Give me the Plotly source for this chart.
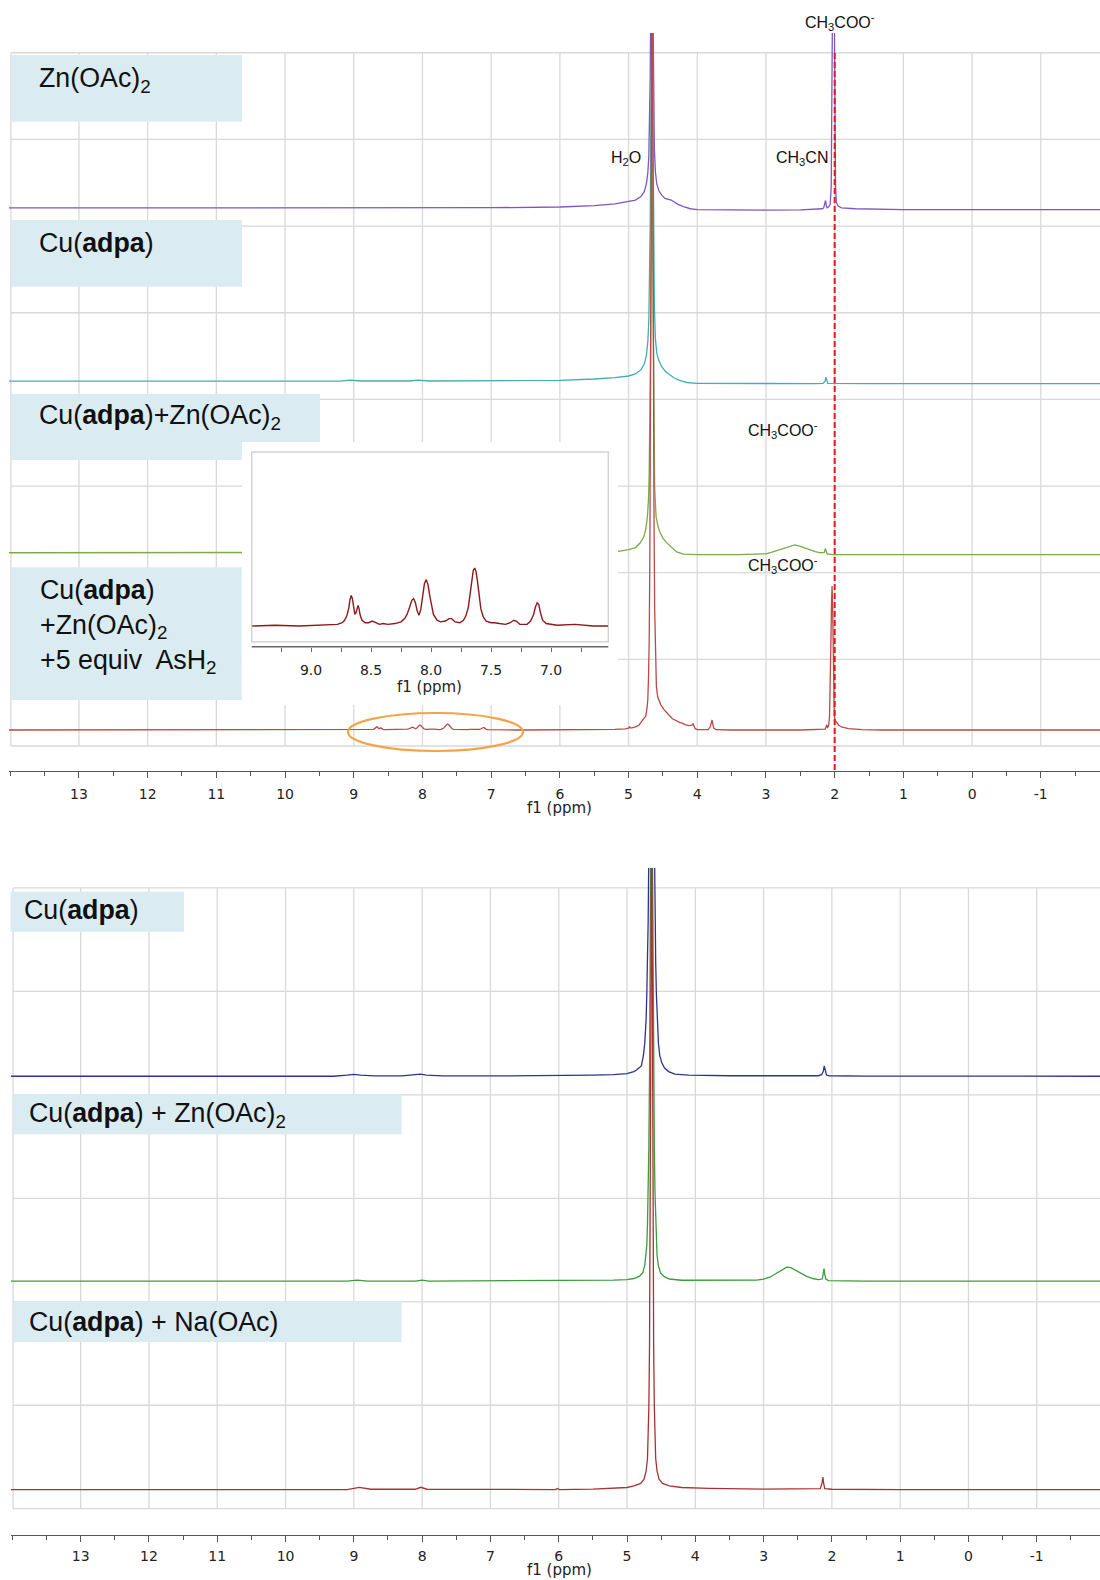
import plotly.graph_objects as go

W, H = 1100, 1580
def px(x): return x / W
def py(y): return 1 - y / H

# ======================= DATA =======================
# ---- top panel spectra (ppm, intensity in grid units) ----
zn_ppm = [14.03, 12.0, 10.0, 8.0, 7.0, 6.0, 5.5, 5.2, 5.0, 4.9, 4.82, 4.77, 4.74, 4.72, 4.705, 4.695, 4.685,
          4.675, 4.665, 4.655, 4.645, 4.635, 4.625, 4.61, 4.59, 4.56, 4.52, 4.47, 4.42, 4.38, 4.34, 4.28,
          4.2, 4.1, 4.0, 3.5, 3.0, 2.5, 2.25, 2.18, 2.16, 2.145, 2.133, 2.122, 2.11, 2.09, 2.065, 2.05,
          2.037, 2.027, 2.017, 2.007, 1.997, 1.987, 1.975, 1.95, 1.9, 1.7, 1.0, -1.0, -1.93]
zn_int = [0.0, 0.0, 0.0, 0.0, 0.002, 0.01, 0.025, 0.045, 0.07, 0.09, 0.13, 0.19, 0.28, 0.40, 0.6, 0.9, 1.5,
          2.6, 4.0, 4.0, 2.4, 1.2, 0.7, 0.42, 0.28, 0.2, 0.15, 0.11, 0.1, 0.09, 0.07, 0.04,
          0.015, -0.01, -0.02, -0.025, -0.025, -0.022, -0.018, -0.01, 0.0, 0.04, 0.085, 0.03, 0.0, 0.01, 0.04, 0.25,
          1.0, 2.5, 4.0, 2.5, 0.9, 0.25, 0.06, 0.02, 0.0, -0.01, -0.02, -0.02, -0.02]

cu_ppm = [14.03, 10.0, 9.2, 9.05, 8.9, 8.2, 8.07, 7.9, 7.0, 6.0, 5.5, 5.2, 5.0, 4.9, 4.82, 4.77, 4.74, 4.72,
          4.705, 4.695, 4.685, 4.675, 4.665, 4.655, 4.645, 4.635, 4.625, 4.61, 4.59, 4.56, 4.52, 4.46, 4.4,
          4.34, 4.26, 4.15, 4.0, 3.0, 2.3, 2.17, 2.14, 2.128, 2.117, 2.1, 1.5, -1.93]
cu_int = [0.0, 0.0, 0.0, 0.012, 0.002, 0.002, 0.012, 0.002, 0.003, 0.01, 0.025, 0.04, 0.06, 0.085, 0.13, 0.2, 0.3, 0.45,
          0.7, 1.1, 1.8, 3.0, 4.5, 4.5, 3.0, 1.6, 0.9, 0.5, 0.33, 0.24, 0.17, 0.11, 0.07,
          0.04, 0.01, -0.015, -0.025, -0.03, -0.028, -0.025, 0.0, 0.045, 0.0, -0.025, -0.028, -0.028]

cuzn_ppm = [14.03, 10.0, 8.0, 7.0, 6.0, 5.5, 5.15, 5.0, 4.9, 4.83, 4.78, 4.75, 4.725, 4.71, 4.7, 4.69, 4.68,
            4.67, 4.66, 4.65, 4.64, 4.63, 4.62, 4.6, 4.57, 4.54, 4.5, 4.45, 4.4, 4.35, 4.3, 4.2, 4.0, 3.4,
            3.1, 3.0, 2.9, 2.8, 2.7, 2.62, 2.58, 2.52, 2.44, 2.36, 2.28, 2.21, 2.15, 2.135, 2.125, 2.11,
            2.05, 1.5, -1.93]
cuzn_int = [0.0, 0.0, 0.0, 0.002, 0.005, 0.008, 0.015, 0.035, 0.06, 0.115, 0.18, 0.27, 0.42, 0.62, 0.9, 1.4, 2.3,
            3.6, 4.5, 3.6, 2.2, 1.2, 0.75, 0.42, 0.3, 0.23, 0.17, 0.12, 0.08, 0.05, 0.01, -0.015, -0.022, -0.022,
            -0.02, -0.012, 0.01, 0.035, 0.065, 0.085, 0.09, 0.08, 0.055, 0.03, 0.012, 0.0, 0.005, 0.05, 0.02, -0.012,
            -0.02, -0.022, -0.022]

# Cu(adpa)+Zn(OAc)2+5 equiv AsH2 : left part, aromatic region (also shown in the inset), right part
as_left_ppm = [14.03, 12.0, 10.0, 9.6]
as_left_int = [0.0, 0.0, 0.0, 0.0]
as_arom_ppm = [9.49, 9.30, 9.10, 8.95, 8.85, 8.78, 8.74, 8.72, 8.70, 8.685, 8.675, 8.665, 8.655, 8.645, 8.635,
               8.625, 8.615, 8.608, 8.60, 8.59, 8.575, 8.55, 8.52, 8.49, 8.46, 8.43, 8.40, 8.36, 8.30, 8.25,
               8.22, 8.20, 8.18, 8.16, 8.145, 8.13, 8.115, 8.10, 8.085, 8.07, 8.055, 8.04, 8.025, 8.01, 7.995,
               7.98, 7.95, 7.92, 7.88, 7.85, 7.83, 7.80, 7.76, 7.73, 7.71, 7.69, 7.675, 7.66, 7.648, 7.636,
               7.625, 7.612, 7.598, 7.585, 7.565, 7.54, 7.50, 7.47, 7.43, 7.38, 7.34, 7.31, 7.29, 7.26, 7.20,
               7.17, 7.145, 7.13, 7.115, 7.102, 7.088, 7.07, 7.04, 6.95, 6.80, 6.65, 6.525]
as_arom_int = [0.000, 0.001, 0.000, 0.001, 0.001, 0.002, 0.004, 0.007, 0.013, 0.022, 0.032, 0.037, 0.033, 0.022, 0.014,
               0.016, 0.023, 0.025, 0.021, 0.013, 0.007, 0.004, 0.004, 0.006, 0.004, 0.002, 0.003, 0.002, 0.003, 0.005,
               0.009, 0.014, 0.022, 0.031, 0.033, 0.028, 0.018, 0.013, 0.020, 0.036, 0.051, 0.056, 0.050, 0.036, 0.023,
               0.014, 0.007, 0.005, 0.006, 0.009, 0.009, 0.005, 0.004, 0.007, 0.012, 0.022, 0.038, 0.056, 0.067, 0.070,
               0.066, 0.053, 0.035, 0.021, 0.011, 0.006, 0.004, 0.004, 0.003, 0.002, 0.004, 0.007, 0.006, 0.002, 0.002,
               0.006, 0.014, 0.023, 0.028, 0.026, 0.016, 0.007, 0.003, 0.001, 0.002, 0.000, 0.000]
as_right_ppm = [6.4, 6.0, 5.5, 5.2, 5.05, 5.0, 4.985, 4.975, 4.95, 4.9, 4.85, 4.81, 4.79, 4.77, 4.75, 4.73, 4.72,
                4.71, 4.70, 4.69, 4.68, 4.67, 4.66, 4.65, 4.64, 4.63, 4.62, 4.61, 4.595, 4.575, 4.56, 4.53, 4.49,
                4.45, 4.41, 4.36, 4.3, 4.25, 4.22, 4.17, 4.12, 4.08, 4.06, 4.045, 4.03, 4.0, 3.9, 3.84, 3.81,
                3.795, 3.785, 3.775, 3.76, 3.72, 3.5, 2.5, 2.2, 2.14, 2.125, 2.115, 2.105, 2.09, 2.075, 2.065,
                2.055, 2.045, 2.038, 2.03, 2.022, 2.014, 2.006, 1.995, 1.97, 1.94, 1.9, 1.8, 1.6, 1.3, -1.93]
as_right_int = [0.0, 0.002, 0.004, 0.008, 0.012, 0.02, 0.04, 0.025, 0.025, 0.035, 0.055, 0.09, 0.12, 0.14, 0.16, 0.26, 0.35,
                0.6, 1.0, 2.0, 3.5, 6.0, 10.0, 7.0, 4.0, 2.5, 1.4, 0.8, 0.5, 0.38, 0.34, 0.29, 0.24,
                0.2, 0.17, 0.13, 0.1, 0.085, 0.08, 0.06, 0.05, 0.055, 0.07, 0.04, 0.015, 0.005, 0.0, 0.005, 0.04,
                0.11, 0.115, 0.07, 0.02, 0.003, 0.0, 0.0, 0.003, 0.01, 0.035, 0.06, 0.03, 0.04, 0.15, 0.45,
                1.0, 1.5, 1.66, 1.45, 0.9, 0.4, 0.17, 0.11, 0.08, 0.055, 0.035, 0.015, 0.005, 0.0, 0.0]

top_names = ["Zn(OAc)2", "Cu(adpa)", "Cu(adpa)+Zn(OAc)2", "Cu(adpa)+Zn(OAc)2+5 equiv AsH2"]
top_offsets = [6.21, 4.21, 2.23, 0.185]
top_colors = ["#7d57c1", "#45adb0", "#79ab4a", "#b94a48"]

# ---- bottom panel spectra ----
b_cu_ppm = [14.03, 12.0, 10.0, 9.3, 9.1, 9.0, 8.9, 8.7, 8.3, 8.1, 8.02, 7.94, 7.7, 7.0, 6.0, 5.5, 5.2, 5.0,
            4.9, 4.85, 4.79, 4.76, 4.74, 4.72, 4.71, 4.70, 4.69, 4.68, 4.67, 4.66, 4.65, 4.64, 4.63, 4.62,
            4.61, 4.60, 4.59, 4.58, 4.57, 4.56, 4.54, 4.52, 4.49, 4.45, 4.39, 4.3, 4.1, 3.5, 2.5, 2.2, 2.15,
            2.125, 2.112, 2.1, 2.08, 2.04, 1.5, -1.93]
b_cu_int = [0.0, 0.0, 0.0, 0.0, 0.01, 0.018, 0.01, 0.003, 0.003, 0.012, 0.02, 0.01, 0.003, 0.003, 0.005, 0.01, 0.015, 0.025,
            0.045, 0.065, 0.1, 0.2, 0.32, 0.55, 0.8, 1.1, 1.5, 2.2, 3.0, 4.1, 5.2, 5.7, 5.2, 4.1,
            3.0, 2.2, 1.5, 1.1, 0.8, 0.55, 0.32, 0.2, 0.13, 0.08, 0.045, 0.02, 0.01, 0.005, 0.005, 0.005, 0.015,
            0.05, 0.1, 0.05, 0.012, 0.005, 0.002, 0.0]

b_zn_ppm = [14.03, 10.0, 9.1, 8.95, 8.8, 8.1, 8.0, 7.9, 6.0, 5.5, 5.2, 5.0, 4.9, 4.82, 4.77, 4.74, 4.72, 4.71,
            4.70, 4.69, 4.68, 4.67, 4.66, 4.65, 4.64, 4.63, 4.62, 4.61, 4.60, 4.59, 4.58, 4.57, 4.56, 4.54,
            4.51, 4.46, 4.38, 4.2, 3.5, 3.1, 3.0, 2.9, 2.8, 2.72, 2.66, 2.6, 2.52, 2.44, 2.37, 2.28, 2.2,
            2.14, 2.125, 2.115, 2.105, 2.09, 2.05, 1.5, -1.93]
b_zn_int = [0.0, 0.0, 0.0, 0.01, 0.0, 0.0, 0.01, 0.0, 0.003, 0.006, 0.01, 0.015, 0.025, 0.045, 0.08, 0.15, 0.25, 0.35,
            0.55, 0.85, 1.3, 2.0, 3.0, 4.5, 6.0, 4.5, 3.0, 2.0, 1.3, 0.85, 0.55, 0.35, 0.25, 0.15,
            0.08, 0.045, 0.02, 0.008, 0.005, 0.01, 0.02, 0.04, 0.08, 0.115, 0.135, 0.13, 0.1, 0.07, 0.045, 0.025, 0.015,
            0.02, 0.07, 0.12, 0.07, 0.02, 0.005, 0.0, 0.0]

b_na_ppm = [14.03, 10.0, 9.1, 8.92, 8.75, 8.1, 8.02, 7.93, 6.5, 6.05, 6.02, 5.99, 5.5, 5.2, 5.0, 4.9, 4.8, 4.75,
            4.72, 4.70, 4.69, 4.68, 4.67, 4.66, 4.65, 4.64, 4.63, 4.62, 4.61, 4.60, 4.59, 4.58, 4.56, 4.53,
            4.48, 4.38, 4.2, 3.8, 3.0, 2.3, 2.17, 2.145, 2.132, 2.12, 2.105, 2.0, 1.0, -1.93]
b_na_int = [0.0, 0.0, 0.0, 0.02, 0.003, 0.003, 0.022, 0.003, 0.0, 0.0, 0.01, 0.0, 0.005, 0.01, 0.02, 0.035, 0.06, 0.1,
            0.18, 0.3, 0.5, 0.8, 1.4, 2.5, 4.5, 7.0, 4.5, 2.5, 1.4, 0.8, 0.5, 0.3, 0.18, 0.1,
            0.06, 0.035, 0.02, 0.012, 0.005, 0.003, 0.008, 0.06, 0.12, 0.06, 0.008, 0.003, 0.0, 0.0]

bot_offsets = [4.18, 2.20, 0.185]
bot_colors = ["#2b3590", "#3c9d3c", "#a83232"]

# ---- axes ticks ----
main_tick_vals = [13, 12, 11, 10, 9, 8, 7, 6, 5, 4, 3, 2, 1, 0, -1]
main_tick_text = ["13", "12", "11", "10", "9", "8", "7", "6", "5", "4", "3", "2", "1", "0", "-1"]
inset_tick_vals = [9.0, 8.5, 8.0, 7.5, 7.0]
inset_tick_text = ["9.0", "8.5", "8.0", "7.5", "7.0"]
inset_minor_vals = [9.25, 8.75, 8.25, 7.75, 7.25, 6.75]
acetate_ref_ppm = 2.0

# ======================= FIGURE =======================
fig = go.Figure()

top_sets = [(zn_ppm, zn_int), (cu_ppm, cu_int), (cuzn_ppm, cuzn_int),
            (as_left_ppm + as_arom_ppm + as_right_ppm, as_left_int + as_arom_int + as_right_int)]
for (xs, ys), off, col, nm in zip(top_sets, top_offsets, top_colors, top_names):
    fig.add_trace(go.Scatter(x=xs, y=[v + off for v in ys], mode="lines", name=nm,
                             line=dict(color=col, width=1.3), xaxis="x", yaxis="y", hoverinfo="skip"))

bot_sets = [(b_cu_ppm, b_cu_int), (b_zn_ppm, b_zn_int), (b_na_ppm, b_na_int)]
for (xs, ys), off, col in zip(bot_sets, bot_offsets, bot_colors):
    fig.add_trace(go.Scatter(x=xs, y=[v + off for v in ys], mode="lines",
                             line=dict(color=col, width=1.3), xaxis="x2", yaxis="y2", hoverinfo="skip"))

# inset (aromatic region of the AsH2 spectrum)
fig.add_trace(go.Scatter(x=as_arom_ppm, y=as_arom_int, mode="lines",
                         line=dict(color="#8b1a1a", width=1.4), xaxis="x3", yaxis="y3", hoverinfo="skip"))

GRID = "#d9d9d9"
shapes = []
# top panel grid / frame
for v in main_tick_vals:
    shapes.append(dict(type="line", xref="x", yref="y", x0=v, x1=v, y0=0, y1=8,
                       line=dict(color=GRID, width=1.3), layer="below"))
for k in range(9):
    shapes.append(dict(type="line", xref="x", yref="y", x0=13.99, x1=-3, y0=k, y1=k,
                       line=dict(color=GRID, width=1.3), layer="below"))
shapes.append(dict(type="line", xref="x", yref="y", x0=13.99, x1=13.99, y0=0, y1=8,
                   line=dict(color=GRID, width=1.3), layer="below"))
# bottom panel grid / frame
for v in main_tick_vals:
    shapes.append(dict(type="line", xref="x2", yref="y2", x0=v, x1=v, y0=0, y1=6,
                       line=dict(color=GRID, width=1.3), layer="below"))
for k in range(7):
    shapes.append(dict(type="line", xref="x2", yref="y2", x0=13.99, x1=-3, y0=k, y1=k,
                       line=dict(color=GRID, width=1.3), layer="below"))
shapes.append(dict(type="line", xref="x2", yref="y2", x0=13.99, x1=13.99, y0=0, y1=6,
                   line=dict(color=GRID, width=1.3), layer="below"))
# inset frame and axis line
shapes.append(dict(type="rect", xref="x3", yref="y3", x0=9.494, x1=6.5225, y0=-0.019, y1=0.21,
                   line=dict(color="#d3d3d3", width=1.5), layer="below"))
shapes.append(dict(type="line", xref="x3", yref="y3", x0=9.494, x1=6.5225, y0=-0.025, y1=-0.025,
                   line=dict(color="#666666", width=1.3), layer="below"))

# red dashed reference line
shapes.append(dict(type="line", xref="x", yref="paper", x0=acetate_ref_ppm, x1=acetate_ref_ppm,
                   y0=py(770), y1=py(53), line=dict(color="#e31a1c", width=2, dash="6px,3px"), layer="above"))

# label boxes
BOX = "#daecf2"
boxes = [(11, 55, 242, 121.7), (11, 220, 242, 286.7), (11, 394, 242, 460), (242, 394, 320, 442),
         (11.7, 567.3, 241.7, 700),
         (10.5, 891.7, 184, 931.7), (14, 1094, 401.6, 1134.3), (14, 1301.6, 401.6, 1342)]
for x0, y0, x1, y1 in boxes:
    shapes.append(dict(type="rect", xref="paper", yref="paper", x0=px(x0), x1=px(x1), y0=py(y1), y1=py(y0),
                       line=dict(width=0), fillcolor=BOX, layer="above"))
# orange ellipse
shapes.append(dict(type="circle", xref="paper", yref="paper", x0=px(348), x1=px(523), y0=py(751), y1=py(713),
                   line=dict(color="#f4a346", width=2.2), layer="above"))

LAB = dict(family="Liberation Sans, Arial, sans-serif", size=26.8, color="#111111")
SM = dict(family="Liberation Sans, Arial, sans-serif", size=16, color="#111111")
AX = dict(family="DejaVu Sans, Verdana, sans-serif", size=15, color="#222222")

ann = []
def lab(txt, x, y, font, xanchor="left"):
    ann.append(dict(text=txt, x=px(x), y=py(y), xref="paper", yref="paper", showarrow=False,
                    xanchor=xanchor, yanchor="middle", align="left", font=font))

lab("Zn(OAc)<sub>2</sub>", 37, 80, LAB)
lab("Cu(<b>adpa</b>)", 37, 243, LAB)
lab("Cu(<b>adpa</b>)+Zn(OAc)<sub>2</sub>", 37, 417, LAB)
lab("Cu(<b>adpa</b>)<br>+Zn(OAc)<sub>2</sub><br>+5 equiv  AsH<sub>2</sub>", 38, 626, LAB)
lab("Cu(<b>adpa</b>)", 22, 910, LAB)
lab("Cu(<b>adpa</b>) + Zn(OAc)<sub>2</sub>", 27, 1115, LAB)
lab("Cu(<b>adpa</b>) + Na(OAc)", 27, 1322, LAB)

lab("CH<sub>3</sub>COO<sup>-</sup>", 840, 22, SM, "center")
lab("H<sub>2</sub>O", 626, 159, SM, "center")
lab("CH<sub>3</sub>CN", 802, 159, SM, "center")
lab("CH<sub>3</sub>COO<sup>-</sup>", 783, 430, SM, "center")
lab("CH<sub>3</sub>COO<sup>-</sup>", 783, 565, SM, "center")

lab("f1 (ppm)", 559, 808, AX, "center")
lab("f1 (ppm)", 559, 1570, AX, "center")
lab("f1 (ppm)", 429, 687, AX, "center")

main_x = dict(tickmode="array", tickvals=main_tick_vals, ticktext=main_tick_text,
              ticks="outside", ticklen=6, tickwidth=1.2, tickcolor="#555555",
              minor=dict(dtick=0.5, ticklen=4, tickwidth=1.2, tickcolor="#555555", ticks="outside"),
              showline=True, linecolor="#555555", linewidth=1.3, showgrid=False, zeroline=False,
              tickfont=dict(family="DejaVu Sans, Verdana, sans-serif", size=14, color="#222222"),
              anchor="free", fixedrange=True)

fig.update_layout(
    width=W, height=H, margin=dict(l=0, r=0, t=0, b=0),
    paper_bgcolor="white", plot_bgcolor="white", showlegend=False,
    xaxis=dict(main_x, domain=[px(9), 1], range=[14.018, -1.862], position=py(770.7), ticklabelstandoff=4),
    yaxis=dict(domain=[py(750), py(33)], range=[-0.046, 8.228], visible=False, fixedrange=True, anchor="x"),
    xaxis2=dict(main_x, domain=[px(11), 1], range=[14.02, -1.926], position=py(1535), ticklabelstandoff=2),
    yaxis2=dict(domain=[py(1512), py(868)], range=[-0.032, 6.193], visible=False, fixedrange=True, anchor="x2"),
    xaxis3=dict(domain=[px(242), px(618)], range=[9.575, 6.442], anchor="free", position=py(646.7),
                tickmode="array", tickvals=inset_tick_vals, ticktext=inset_tick_text,
                ticks="outside", ticklen=4, tickwidth=1.2, tickcolor="#666666",
                minor=dict(tickvals=inset_minor_vals, ticklen=4, tickwidth=1.2, tickcolor="#666666", ticks="outside"),
                showline=False, showgrid=False, zeroline=False, ticklabelstandoff=6,
                tickfont=dict(family="DejaVu Sans, Verdana, sans-serif", size=14, color="#222222"), fixedrange=True),
    yaxis3=dict(domain=[py(705), py(442)], range=[-0.0953, 0.2221], visible=False, fixedrange=True, anchor="x3"),
    shapes=shapes, annotations=ann,
)

fig.write_html("out.html")
